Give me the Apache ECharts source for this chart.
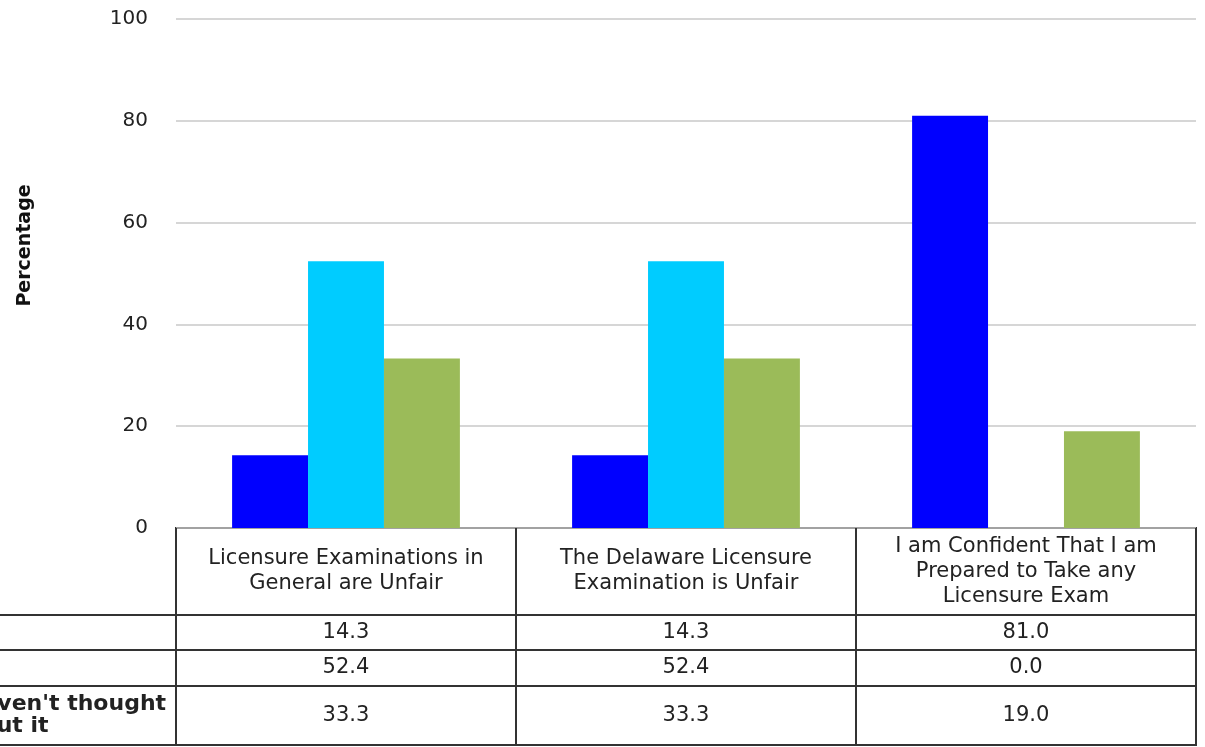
<!DOCTYPE html>
<html>
<head>
<meta charset="utf-8">
<script src="https://cdn.jsdelivr.net/npm/echarts@6/dist/echarts.min.js"></script>
<style>
html,body{margin:0;padding:0;background:#fff;}
#chart{width:1205px;height:747px;}
</style>
</head>
<body>
<div id="chart"></div>
<script>
// ---- data ----
const categories = [
  'Licensure Examinations in General are Unfair',
  'The Delaware Licensure Examination is Unfair',
  'I am Confident That I am Prepared to Take any Licensure Exam'
];
const headerLabels = [
  'Licensure Examinations in\nGeneral are Unfair',
  'The Delaware Licensure\nExamination is Unfair',
  'I am Confident That I am\nPrepared to Take any\nLicensure Exam'
];
const seriesNames = ['Yes', 'No', "I haven't thought about it"];
const yesValues = [14.3, 14.3, 81.0];
const noValues = [52.4, 52.4, 0.0];
const notThoughtValues = [33.3, 33.3, 19.0];
const yMin = 0, yMax = 100, yInterval = 20;
const yAxisTitle = 'Percentage';

// ---- styles ----
const FONT = 'DejaVu Sans';
const TEXT = '#222';
const BORDER = '#333';
const colors = ['#0000FF', '#00CCFF', '#9BBB59'];
const allValues = [yesValues, noValues, notThoughtValues];

const L = 176, R = 9;
const rows = [
  {top: 615, h: 35},
  {top: 650, h: 36},
  {top: 686, h: 59}
];
const gridBase = {left: L, right: R, containLabel: false, outerBoundsMode: 'none'};

const grids = [
  Object.assign({}, gridBase, {top: 19, height: 509}),
  Object.assign({}, gridBase, {top: 528, height: 87, show: true, borderColor: BORDER, borderWidth: 2, backgroundColor: 'transparent'})
];
rows.forEach(r => grids.push(Object.assign({}, gridBase, {top: r.top, height: r.h, show: true, borderColor: BORDER, borderWidth: 2, backgroundColor: 'transparent'})));

const xAxes = [
  {type: 'category', gridIndex: 0, data: categories, axisLine: {show: false}, axisTick: {show: false}, axisLabel: {show: false}},
  {type: 'category', gridIndex: 1, data: categories, axisLine: {show: false}, axisTick: {show: false},
   splitLine: {show: true, lineStyle: {color: BORDER, width: 2}},
   axisLabel: {interval: 0, margin: -43.5, verticalAlign: 'middle', align: 'center', fontFamily: FONT, fontSize: 21, lineHeight: 25, color: TEXT,
     formatter: (v, i) => headerLabels[i]}}
];
rows.forEach((r, k) => xAxes.push({
  type: 'category', gridIndex: 2 + k, data: categories, axisLine: {show: false}, axisTick: {show: false},
  splitLine: {show: true, lineStyle: {color: BORDER, width: 2}},
  axisLabel: {interval: 0, margin: -r.h / 2, verticalAlign: 'middle', align: 'center', fontFamily: FONT, fontSize: 21, color: TEXT,
    formatter: (v, i) => allValues[k][i].toFixed(1)}
}));

const yAxes = [
  {type: 'value', gridIndex: 0, min: yMin, max: yMax, interval: yInterval,
   axisLine: {show: false}, axisTick: {show: false},
   axisLabel: {margin: 28, fontFamily: FONT, fontSize: 20, color: TEXT},
   splitLine: {lineStyle: {color: '#c8c8c8', width: 1.5}},
   name: yAxisTitle, nameLocation: 'middle', nameGap: 141,
   nameTextStyle: {fontFamily: FONT, fontSize: 19, fontWeight: 'bold', color: '#111', padding: [0, 0, 0, 56]}},
  {type: 'value', gridIndex: 1, show: false}
];
rows.forEach((r, k) => yAxes.push({
  type: 'category', gridIndex: 2 + k, data: [seriesNames[k]],
  axisLine: {show: false},
  axisTick: {show: true, length: 180, lineStyle: {color: BORDER, width: 2}},
  axisLabel: {margin: 225, align: 'left', verticalAlign: 'middle', fontFamily: FONT, fontSize: 22, fontWeight: 'bold', color: TEXT,
    width: 230, overflow: 'break', lineHeight: 22}
}));

const series = allValues.map((vals, k) => ({
  name: seriesNames[k], type: 'bar', xAxisIndex: 0, yAxisIndex: 0, data: vals,
  barGap: '0%', barCategoryGap: '33%', itemStyle: {color: colors[k]}
}));

const chart = echarts.init(document.getElementById('chart'), null, {renderer: 'canvas'});
chart.setOption({
  animation: false,
  backgroundColor: '#fff',
  grid: grids,
  xAxis: xAxes,
  yAxis: yAxes,
  series: series
});
</script>
</body>
</html>
